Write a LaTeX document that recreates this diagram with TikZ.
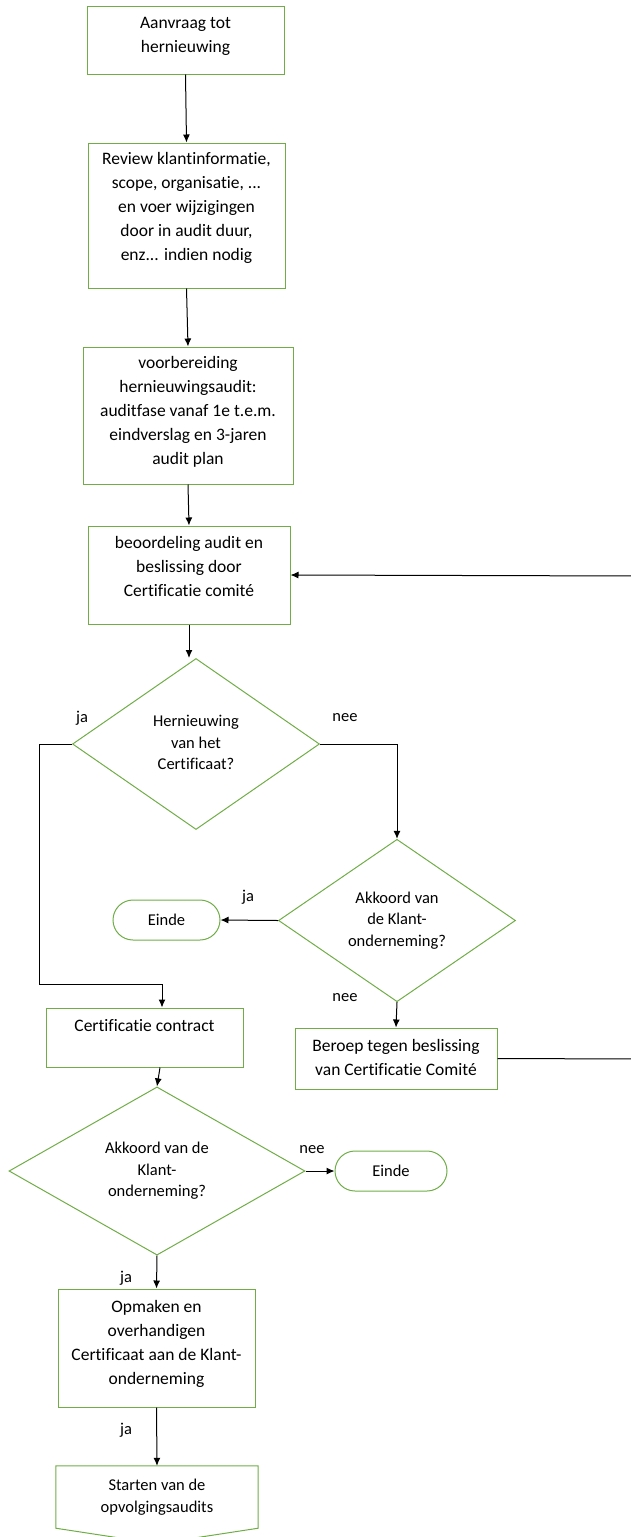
\documentclass[tikz,border=0pt]{standalone}
\usepackage{fontspec}
\setmainfont{Carlito}[Ligatures=NoCommon]
\usetikzlibrary{arrows.meta,shapes.geometric,shapes.misc,calc}
\definecolor{boxgreen}{RGB}{112,173,71}
\newcommand{\mlines}[1]{\begin{tabular}{@{}c@{}}#1\end{tabular}}
\begin{document}
\begin{tikzpicture}[x=1pt,y=-1pt,
  every node/.style={inner sep=0pt},
  procbox/.style={draw=boxgreen, line width=1pt, rectangle, font=\fontsize{17.5}{24}\selectfont},
  decision/.style={draw=boxgreen, line width=1pt, diamond, font=\fontsize{16.5}{21.5}\selectfont},
  terminal/.style={draw=boxgreen, line width=1pt, rounded rectangle, font=\fontsize{16.5}{20}\selectfont},
  lbl/.style={font=\fontsize{16.5}{20}\selectfont},
  flow/.style={-{Latex[length=8pt,width=7pt]}, line width=1pt, draw=black},
  greenline/.style={draw=boxgreen, line width=1pt}
]
\useasboundingbox (0,0) rectangle (631,1537);

\node[procbox, minimum width=197, minimum height=68, text depth=27.6pt] (a) at (185.5,40)
  {\mlines{Aanvraag tot\\hernieuwing}};
\node[procbox, minimum width=197, minimum height=145, text depth=70.6pt] (b) at (186.5,215.5)
  {\mlines{Review klantinformatie,\\scope, organisatie, ...\\en voer wijzigingen\\door in audit duur,\\enz... indien nodig}};
\node[procbox, minimum width=210, minimum height=137, text depth=62.6pt] (c) at (188,415.5)
  {\mlines{voorbereiding\\hernieuwingsaudit:\\auditfase vanaf 1e t.e.m.\\eindverslag en 3-jaren\\audit plan}};
\node[procbox, minimum width=202, minimum height=98, text depth=45.6pt] (d) at (189,575)
  {\mlines{beoordeling audit en\\beslissing door\\Certificatie comité}};

\node[decision, minimum width=247, minimum height=171] (q1) at (196,744)
  {\mlines{Hernieuwing\\van het\\Certificaat?}};
\node[decision, minimum width=237, minimum height=157] (q2) at (397,920.5)
  {\mlines{Akkoord van\\de Klant-\\onderneming?}};
\node[terminal, minimum width=107, minimum height=40] (e1) at (166.5,920) {Einde};

\node[procbox, minimum width=197, minimum height=59, text depth=28.6pt] (cc) at (144.5,1037.5)
  {\mlines{Certificatie contract}};
\node[procbox, minimum width=202, minimum height=61] (ber) at (396,1058.5)
  {\mlines{Beroep tegen beslissing\\van Certificatie Comité}};

\node[decision, minimum width=296, minimum height=156] (q3) at (157,1171)
  {\mlines{Akkoord van de\\Klant-\\onderneming?}};
\node[terminal, minimum width=112, minimum height=40] (e2) at (391,1171) {Einde};

\node[procbox, minimum width=197, minimum height=118, text depth=52.6pt] (op) at (156.5,1348)
  {\mlines{Opmaken en\\overhandigen\\Certificaat aan de Klant-\\onderneming}};

\node[minimum width=202, minimum height=62, font=\fontsize{16.5}{22}\selectfont] (st) at (157,1497)
  {\mlines{Starten van de\\opvolgingsaudits}};
\draw[greenline] (st.south west) -- (st.north west) -- (st.north east) -- (st.south east)
  -- ($(st.south)+(0,15.5)$) -- cycle;

% labels
\node[lbl] (l1) at (82,718) {ja};
\node[lbl] (l2) at (345,718) {nee};
\node[lbl] (l3) at (248,897) {ja};
\node[lbl] (l4) at (345,998) {nee};
\node[lbl] (l5) at (312,1150) {nee};
\node[lbl] (l6) at (126,1278) {ja};
\node[lbl] (l7) at (126,1430) {ja};

% coordinates
\coordinate (jl) at (39,744);
\coordinate (jb) at (39,984);
\coordinate (rt) at (640,1059);
\coordinate (rb) at (640,576);

% connectors
\draw[flow] (a.south) -- (b.north);
\draw[flow] (b.south) -- (c.north);
\draw[flow] (c.south) -- (d.north);
\draw[flow] (d.south) -- (d.south |- q1.north);
\draw[flow] (q1.west) -- (jl) -- (jb) -| ($(cc.north)+(17.5,0)$);
\draw[flow] (q1.east) -| (q2.north);
\draw[flow] (q2.west) -- (e1.east);
\draw[flow] (q2.south) -- (ber.north);
\draw[flow] (ber.east) -- (rt) -- (rb) -- (d.east);
\draw[flow] ($(cc.south)+(15.5,0)$) -- (q3.north);
\draw[flow] (q3.east) -- (e2.west);
\draw[flow] (q3.south) -- (op.north);
\draw[flow] (op.south) -- (st.north);
\end{tikzpicture}
\end{document}
